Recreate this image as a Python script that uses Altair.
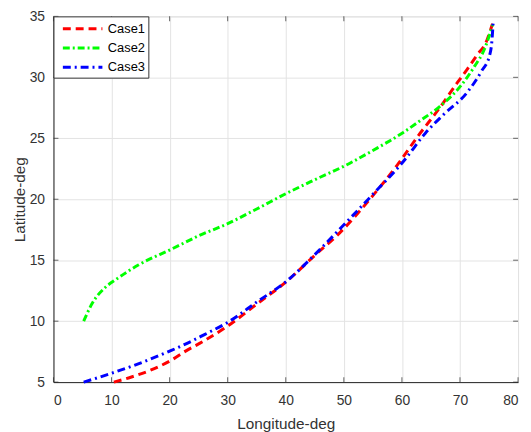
import altair as alt
import pandas as pd

# ---- data ----
case1_lon = [10.4, 13.3, 16.3, 20.3, 22.6, 26.0, 30.0, 35.0, 40.0, 45.0, 49.2, 55.0, 59.2, 62.8, 66.2, 69.6, 71.3, 72.9, 74.6, 75.6]
case1_lat = [5.0, 5.4, 5.9, 6.8, 7.5, 8.4, 9.6, 11.4, 13.2, 15.4, 17.2, 20.3, 22.8, 25.2, 27.3, 29.6, 30.7, 31.8, 33.0, 34.4]

case2_lon = [5.2, 6.6, 9.0, 10.7, 14.6, 20.3, 25.0, 30.0, 35.0, 40.2, 45.0, 50.4, 55.0, 60.3, 63.0, 66.5, 70.3, 72.5, 74.2, 75.1, 75.6]
case2_lat = [10.0, 11.4, 12.8, 13.4, 14.6, 15.9, 17.0, 18.0, 19.2, 20.5, 21.6, 22.8, 24.0, 25.5, 26.4, 27.6, 29.4, 30.9, 32.3, 33.5, 34.3]

case3_lon = [5.2, 9.5, 14.6, 20.3, 23.1, 26.0, 30.0, 35.1, 40.2, 45.3, 50.4, 55.0, 60.6, 64.0, 67.3, 71.3, 73.7, 75.1, 75.5, 75.7]
case3_lat = [5.0, 5.65, 6.5, 7.6, 8.2, 8.9, 9.9, 11.6, 13.3, 15.6, 18.1, 20.4, 23.3, 25.4, 27.0, 28.8, 30.5, 31.8, 33.0, 34.4]

series_names = ["Case1", "Case2", "Case3"]
series_colors = ["#ff0000", "#00ff00", "#0000ff"]
series_dash = [[8, 5], [7, 3, 2, 3], [8, 4, 2, 4]]

x_ticks = [0, 10, 20, 30, 40, 50, 60, 70, 80]
y_ticks = [5, 10, 15, 20, 25, 30, 35]

rows = []
for name, xs, ys in zip(series_names, [case1_lon, case2_lon, case3_lon], [case1_lat, case2_lat, case3_lat]):
    for i, (a, b) in enumerate(zip(xs, ys)):
        rows.append({"series": name, "lon": a, "lat": b, "idx": i})
df = pd.DataFrame(rows)

W, H = 470, 370
xscale = alt.Scale(domain=[0, 80], nice=False, zero=False)
yscale = alt.Scale(domain=[5, 35], nice=False, zero=False)

font = "Liberation Sans"
xaxis = alt.Axis(values=x_ticks, ticks=False, grid=True, gridColor="#e3e3e3", labelFontSize=14,
                 labelColor="#333333", labelPadding=12, title="Longitude-deg", titleFontSize=15.5,
                 titleFontWeight="normal", titleColor="#333333", titlePadding=9, domainColor="#262626",
                 labelFont=font, titleFont=font)
yaxis = alt.Axis(values=y_ticks, ticks=False, grid=True, gridColor="#e3e3e3", labelFontSize=14,
                 labelColor="#333333", labelPadding=9, title="Latitude-deg", titleFontSize=15.5,
                 titleFontWeight="normal", titleColor="#333333", titlePadding=2, domainColor="#262626",
                 labelFont=font, titleFont=font)

leg = alt.Legend(orient="none", legendX=0, legendY=0, title=None, symbolType="M-0.375,0H4.625",
                 symbolSize=256, symbolStrokeWidth=3, labelFontSize=13, labelFont=font,
                 labelColor="#000000", fillColor="white", strokeColor="#333333", padding=3,
                 rowPadding=2.5, labelOffset=33)

lines = alt.Chart(df).mark_line(strokeWidth=3, interpolate="monotone").encode(
    x=alt.X("lon:Q", scale=xscale, axis=xaxis),
    y=alt.Y("lat:Q", scale=yscale, axis=yaxis),
    color=alt.Color("series:N", scale=alt.Scale(domain=series_names, range=series_colors), legend=leg),
    strokeDash=alt.StrokeDash("series:N", scale=alt.Scale(domain=series_names, range=series_dash), legend=leg),
    order="idx:Q",
)

xt = pd.DataFrame({"lon": x_ticks})
yt = pd.DataFrame({"lat": y_ticks})
tick_style = dict(color="#262626", thickness=1, size=5)
bottom_ticks = alt.Chart(xt).mark_tick(orient="vertical", **tick_style).encode(
    x=alt.X("lon:Q", scale=xscale), y=alt.value(H - 2.5))
top_ticks = alt.Chart(xt).mark_tick(orient="vertical", **tick_style).encode(
    x=alt.X("lon:Q", scale=xscale), y=alt.value(2.5))
left_ticks = alt.Chart(yt).mark_tick(orient="horizontal", **tick_style).encode(
    y=alt.Y("lat:Q", scale=yscale), x=alt.value(2.5))
right_ticks = alt.Chart(yt).mark_tick(orient="horizontal", **tick_style).encode(
    y=alt.Y("lat:Q", scale=yscale), x=alt.value(W - 2.5))

chart = alt.layer(lines, bottom_ticks, top_ticks, left_ticks, right_ticks).properties(
    width=W, height=H,
    autosize=alt.AutoSizeParams(type="none"),
    padding={"left": 46, "top": 6, "right": 5, "bottom": 48},
).configure_view(stroke="#262626", strokeWidth=1).configure(background="white")

chart.save("out.html", embed_options={"renderer": "svg", "actions": False})
